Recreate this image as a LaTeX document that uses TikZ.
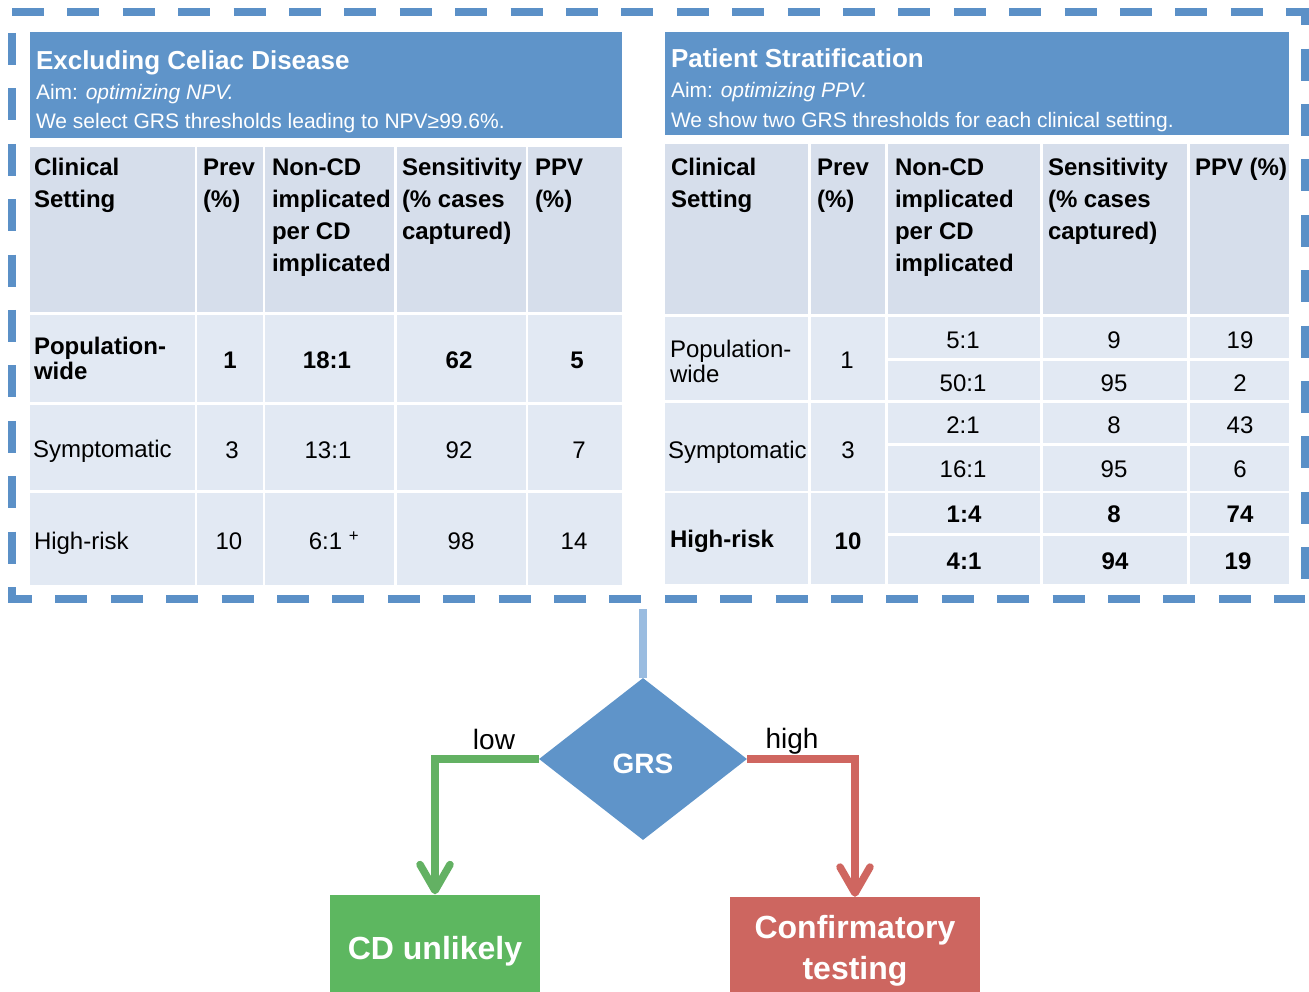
\documentclass[tikz,border=0pt]{standalone}
\usepackage{fontspec}
\setmainfont{Liberation Sans}
\usetikzlibrary{shapes.geometric,arrows.meta}
\definecolor{hdrblue}{HTML}{5F94C9}
\definecolor{dashblue}{HTML}{5B90C7}
\definecolor{cellhead}{HTML}{D6DEEB}
\definecolor{celldata}{HTML}{E2E9F3}
\definecolor{cdgreen}{HTML}{5DB760}
\definecolor{cfred}{HTML}{CD6660}
\definecolor{lineblue}{HTML}{9ABCE0}
\definecolor{linegreen}{HTML}{63B163}
\definecolor{linered}{HTML}{CF6660}
\begin{document}
\begin{tikzpicture}[x=1pt,y=-1pt,
  hr/.style={inner sep=0pt,outer sep=0pt,anchor=base west,font=\fontsize{24}{29}\selectfont},
  hb/.style={hr,font=\fontsize{24}{29}\selectfont\bfseries},
  nr/.style={inner sep=0pt,outer sep=0pt,anchor=base,font=\fontsize{24}{29}\selectfont},
  nb/.style={nr,font=\fontsize{24}{29}\selectfont\bfseries},
  ttl/.style={inner sep=0pt,outer sep=0pt,anchor=base west,text=white,font=\fontsize{26}{30}\selectfont\bfseries},
  subt/.style={inner sep=0pt,outer sep=0pt,anchor=base west,text=white,font=\fontsize{21}{25}\selectfont},
  border/.style={draw=dashblue,line width=8pt,dash pattern=on 32pt off 23.4pt},
  conn/.style={line width=7.5pt},
  lbl/.style={inner sep=0pt,anchor=base,font=\fontsize{28}{32}\selectfont},
  outbox/.style={rectangle,inner sep=0pt,text=white,align=center,font=\fontsize{32}{41}\selectfont\bfseries}
]
\useasboundingbox (0,0) rectangle (1309,992);
\clip (0,0) rectangle (1309,992);
\fill[white] (0,0) rectangle (1309,992);

% ---- dashed frame
\draw[border] (12,12) -- (1305,12) -- (1305,599);
\draw[border,dash phase=34.4pt] (12,12) -- (12,599) -- (1305,599);

% ---- left table
\fill[hdrblue] (30,32) rectangle (622,138);
\foreach \a/\b in {30/195,197/263,265/394,397/526,528/622}{
  \fill[cellhead] (\a,147) rectangle (\b,312);
  \foreach \ya/\yb in {315/402,405/490,493/585}
    \fill[celldata] (\a,\ya) rectangle (\b,\yb);
}
\node[ttl] (lt) at (36,70) {Excluding Celiac Disease};
\node[subt] (la) at (36,100) {Aim: \textit{optimizing NPV.}};
\node[subt] (lw) at (36,129) {We select GRS thresholds leading to NPV≥99.6\%.};

\node[hb] (lh1a) at (34,176) {Clinical};
\node[hb] (lh1b) at (34,208) {Setting};
\node[hb] (lh2a) at (203,176) {Prev};
\node[hb] (lh2b) at (203,208) {(\%)};
\node[hb] (lh3a) at (272,176) {Non-CD};
\node[hb] (lh3b) at (272,208) {implicated};
\node[hb] (lh3c) at (272,240) {per CD};
\node[hb] (lh3d) at (272,272) {implicated};
\node[hb] (lh4a) at (402,176) {Sensitivity};
\node[hb] (lh4b) at (402,208) {(\% cases};
\node[hb] (lh4c) at (402,240) {captured)};
\node[hb] (lh5a) at (535,176) {PPV};
\node[hb] (lh5b) at (535,208) {(\%)};

\node[hb] (lr1a) at (34,354) {Population-};
\node[hb] (lr1b) at (34,379) {wide};
\node[nb] (lr1p) at (230,368) {1};
\node[nb] (lr1n) at (327,368) {18:1};
\node[nb] (lr1s) at (459,368) {62};
\node[nb] (lr1v) at (577,368) {5};

\node[hr] (lr2a) at (33,457) {Symptomatic};
\node[nr] (lr2p) at (232,458) {3};
\node[nr] (lr2n) at (328,458) {13:1};
\node[nr] (lr2s) at (459,458) {92};
\node[nr] (lr2v) at (579,458) {7};

\node[hr] (lr3a) at (34,549) {High-risk};
\node[nr] (lr3p) at (229,549) {10};
\node[nr] (lr3n) at (334,549) {6:1 \raisebox{-2pt}{\textsuperscript{+}}};
\node[nr] (lr3s) at (461,549) {98};
\node[nr] (lr3v) at (574,549) {14};

% ---- right table
\fill[hdrblue] (665,32) rectangle (1289,135);
\foreach \a/\b in {665/808,811/885,888/1040,1043/1187,1190/1289}
  \fill[cellhead] (\a,144) rectangle (\b,314);
\foreach \a/\b in {665/808,811/885}
  \foreach \ya/\yb in {317/400,403/491,493/584}
    \fill[celldata] (\a,\ya) rectangle (\b,\yb);
\foreach \a/\b in {888/1040,1043/1187,1190/1289}
  \foreach \ya/\yb in {317/358,361/400,403/443,446/491,493/533,536/584}
    \fill[celldata] (\a,\ya) rectangle (\b,\yb);

\node[ttl] (rt) at (671,68) {Patient Stratification};
\node[subt] (ra) at (671,98) {Aim: \textit{optimizing PPV.}};
\node[subt] (rw) at (671,128) {We show two GRS thresholds for each clinical setting.};

\node[hb] (rh1a) at (671,176) {Clinical};
\node[hb] (rh1b) at (671,208) {Setting};
\node[hb] (rh2a) at (817,176) {Prev};
\node[hb] (rh2b) at (817,208) {(\%)};
\node[hb] (rh3a) at (895,176) {Non-CD};
\node[hb] (rh3b) at (895,208) {implicated};
\node[hb] (rh3c) at (895,240) {per CD};
\node[hb] (rh3d) at (895,272) {implicated};
\node[hb] (rh4a) at (1048,176) {Sensitivity};
\node[hb] (rh4b) at (1048,208) {(\% cases};
\node[hb] (rh4c) at (1048,240) {captured)};
\node[hb] (rh5a) at (1195,176) {PPV (\%)};

\node[hr] (rr1a) at (670,357) {Population-};
\node[hr] (rr1b) at (670,382) {wide};
\node[nr] (rr1p) at (847,368) {1};
\node[nr] (rr1n1) at (963,348) {5:1};
\node[nr] (rr1s1) at (1114,348) {9};
\node[nr] (rr1v1) at (1240,348) {19};
\node[nr] (rr1n2) at (963,391) {50:1};
\node[nr] (rr1s2) at (1114,391) {95};
\node[nr] (rr1v2) at (1240,391) {2};

\node[hr] (rr2a) at (668,458) {Symptomatic};
\node[nr] (rr2p) at (848,458) {3};
\node[nr] (rr2n1) at (963,433) {2:1};
\node[nr] (rr2s1) at (1114,433) {8};
\node[nr] (rr2v1) at (1240,433) {43};
\node[nr] (rr2n2) at (963,477) {16:1};
\node[nr] (rr2s2) at (1114,477) {95};
\node[nr] (rr2v2) at (1240,477) {6};

\node[hb] (rr3a) at (670,547) {High-risk};
\node[nb] (rr3p) at (848,549) {10};
\node[nb] (rr3n1) at (964,522) {1:4};
\node[nb] (rr3s1) at (1114,522) {8};
\node[nb] (rr3v1) at (1240,522) {74};
\node[nb] (rr3n2) at (964,569) {4:1};
\node[nb] (rr3s2) at (1115,569) {94};
\node[nb] (rr3v2) at (1238,569) {19};

% ---- flow part
\coordinate (tabbot) at (643,609);
\node[diamond,fill=hdrblue,minimum width=208pt,minimum height=162pt,inner sep=0pt,
      text height=28pt,text depth=0pt,
      text=white,font=\fontsize{28}{32}\selectfont\bfseries] (grs) at (643,759) {GRS};
\node[outbox,fill=cdgreen,minimum width=210pt,minimum height=113pt] (cdu) at (435,951) {CD unlikely};
\node[outbox,fill=cfred,minimum width=250pt,minimum height=108pt] (conf) at (855,951) {Confirmatory\\testing};

\draw[conn,lineblue] (tabbot) -- (grs.north);
\draw[conn,linegreen,-{Straight Barb[length=26pt,width=30pt,round]}] (grs.west) -| (cdu.north);
\draw[conn,linered,-{Straight Barb[length=26pt,width=30pt,round]}] (grs.east) -| (conf.north);

\node[lbl] (low) at (494,749) {low};
\node[lbl] (high) at (792,748) {high};
\end{tikzpicture}
\end{document}
